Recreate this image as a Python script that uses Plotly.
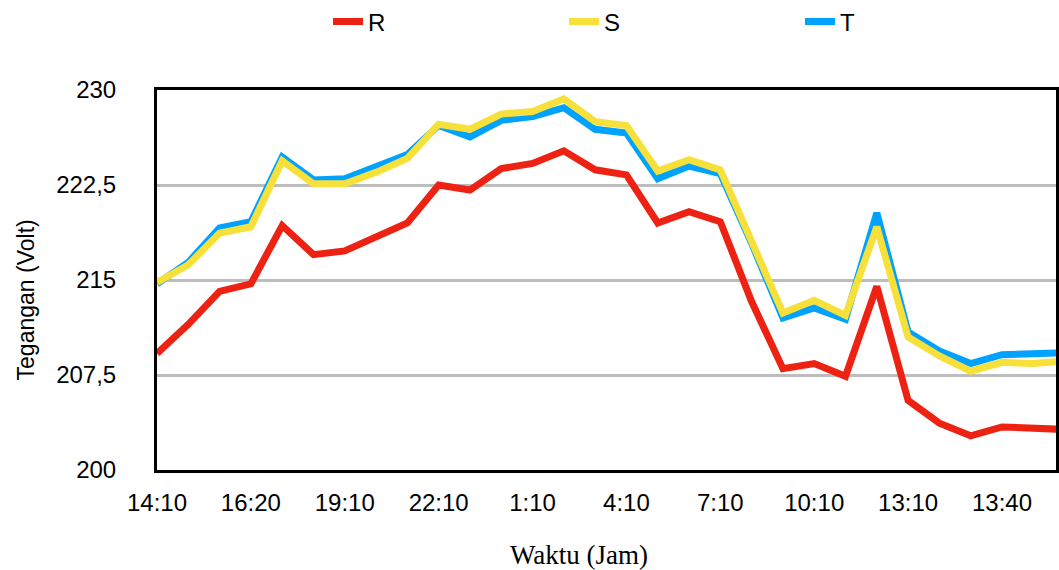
import plotly.graph_objects as go

# Tegangan fasa R, S, T (Volt) per pengukuran
tegangan_r = [209.2, 211.5, 214.1, 214.7, 219.3, 217.0, 217.3, 218.4, 219.5, 222.5,
              222.1, 223.8, 224.2, 225.2, 223.7, 223.3, 219.5, 220.4, 219.6, 213.3,
              208.0, 208.4, 207.4, 214.5, 205.5, 203.7, 202.7, 203.4, 203.3, 203.2]
tegangan_s = [214.8, 216.2, 218.7, 219.2, 224.4, 222.6, 222.6, 223.5, 224.6, 227.3,
              226.9, 228.1, 228.3, 229.3, 227.5, 227.2, 223.6, 224.5, 223.7, 218.1,
              212.4, 213.4, 212.2, 219.2, 210.5, 209.0, 207.8, 208.5, 208.4, 208.6]
tegangan_t = [214.7, 216.4, 219.1, 219.6, 224.7, 222.9, 223.0, 224.0, 224.9, 227.2,
              226.3, 227.6, 227.9, 228.6, 226.9, 226.6, 223.0, 224.0, 223.4, 217.9,
              212.0, 212.8, 211.9, 220.3, 210.9, 209.4, 208.4, 209.1, 209.15, 209.25]

label_waktu = ["14:10", "16:20", "19:10", "22:10", "1:10", "4:10", "7:10", "10:10", "13:10", "13:40"]
nilai_y = [200, 207.5, 215, 222.5, 230]
label_y = ["200", "207,5", "215", "222,5", "230"]

idx = list(range(len(tegangan_r)))

W, H = 1059, 570
ML, MR, MT, MB = 157, 0, 90, 100
plot_w = W - ML - MR
plot_h = H - MT - MB

fig = go.Figure()
# T drawn first so S sits on top of it, R last
fig.add_trace(go.Scatter(x=idx, y=tegangan_t, name="T", mode="lines",
                         line=dict(color="#00A2FF", width=7)))
fig.add_trace(go.Scatter(x=idx, y=tegangan_s, name="S", mode="lines",
                         line=dict(color="#F8E03A", width=7)))
fig.add_trace(go.Scatter(x=idx, y=tegangan_r, name="R", mode="lines",
                         line=dict(color="#EE2212", width=7)))

font_main = "Liberation Sans, Arial, Helvetica, sans-serif"

fig.update_layout(
    width=W, height=H,
    margin=dict(l=ML, r=MR, t=MT, b=MB),
    paper_bgcolor="white", plot_bgcolor="white",
    font=dict(family=font_main, size=24, color="black"),
    showlegend=True,
    legend=dict(orientation="h", traceorder="reversed",
                xref="container", x=328 / W, xanchor="left",
                yref="container", y=1 - 22 / H, yanchor="middle",
                entrywidth=191, entrywidthmode="pixels",
                font=dict(size=24), bgcolor="rgba(0,0,0,0)"),
    xaxis=dict(range=[0, (W - ML) / 31.4], tickmode="array",
               tickvals=idx[::3], ticktext=label_waktu,
               showgrid=False, zeroline=False,
               showline=True, linecolor="black", linewidth=3, mirror=True,
               ticks="", ticklabelstandoff=9, tickfont=dict(size=24)),
    yaxis=dict(range=[200, 230], tickmode="array",
               tickvals=nilai_y, ticktext=label_y,
               showgrid=True, gridcolor="#BDBDBD", gridwidth=2.5,
               zeroline=False,
               showline=True, linecolor="black", linewidth=3, mirror=True,
               ticks="", ticklabelstandoff=33, tickfont=dict(size=24)),
    annotations=[
        dict(text="Tegangan (Volt)", textangle=-90, showarrow=False,
             xref="paper", yref="paper",
             x=(26 - ML) / plot_w, y=(MT + plot_h - 300) / plot_h,
             xanchor="center", yanchor="middle",
             font=dict(family=font_main, size=23)),
        dict(text="Waktu (Jam)", showarrow=False,
             xref="paper", yref="paper",
             x=(580 - ML) / plot_w, y=(MT + plot_h - 555) / plot_h,
             xanchor="center", yanchor="middle",
             font=dict(family="Liberation Serif, Times New Roman, serif", size=27)),
    ],
)

fig.write_html("out.html")
